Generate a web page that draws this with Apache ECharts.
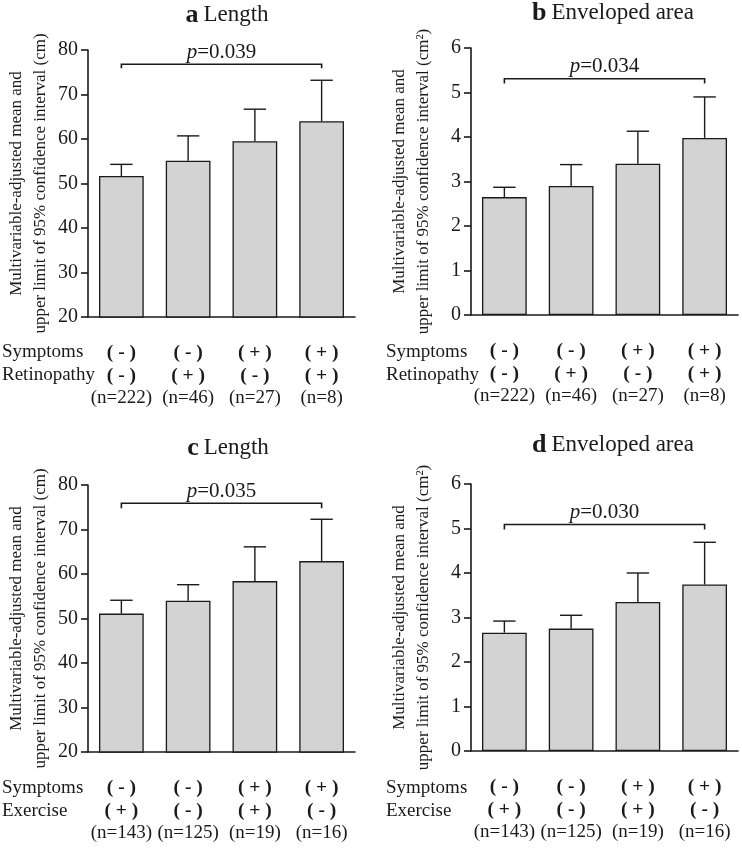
<!DOCTYPE html>
<html>
<head>
<meta charset="utf-8">
<script src="https://cdn.jsdelivr.net/npm/echarts@6/dist/echarts.min.js"></script>
<style>html,body{margin:0;padding:0;background:#fff;}#c{width:742px;height:849px;}</style>
</head>
<body>
<div id="c"></div>
<script>
// ---- data ----
const symptoms = ['( - )', '( - )', '( + )', '( + )'];
const retinopathy = ['( - )', '( + )', '( - )', '( + )'];
const nRetino = ['(n=222)', '(n=46)', '(n=27)', '(n=8)'];
const exercise = ['( + )', '( - )', '( + )', '( - )'];
const nExercise = ['(n=143)', '(n=125)', '(n=19)', '(n=16)'];

const lengthMeanA = [51.7, 55.1, 59.5, 64.0];
const lengthUpperA = [54.3, 60.7, 66.7, 73.2];
const areaMeanB = [2.65, 2.90, 3.40, 3.98];
const areaUpperB = [2.87, 3.38, 4.13, 4.90];
const lengthMeanC = [51.1, 54.0, 58.4, 62.9];
const lengthUpperC = [54.1, 57.6, 66.1, 72.3];
const areaMeanD = [2.66, 2.75, 3.35, 3.74];
const areaUpperD = [2.92, 3.05, 4.00, 4.69];

const panelLetters = ['a', 'b', 'c', 'd'];
const panelTitles = ['Length', 'Enveloped area', 'Length', 'Enveloped area'];
const pValues = ['0.039', '0.034', '0.035', '0.030'];
const bracketLevel = [76.8, 5.31, 75.9, 5.09];
const bracketEnd = [75.9, 5.20, 74.8, 4.98];
const yMin = [20, 0, 20, 0];
const yMax = [80, 6, 80, 6];
const yStep = [10, 1, 10, 1];
const yNames = [
  'Multivariable-adjusted mean and\nupper limit of 95% confidence interval (cm)',
  'Multivariable-adjusted mean and\nupper limit of 95% confidence interval (cm\u00B2)',
  'Multivariable-adjusted mean and\nupper limit of 95% confidence interval (cm)',
  'Multivariable-adjusted mean and\nupper limit of 95% confidence interval (cm\u00B2)'
];
const rowNames = [['Symptoms', 'Retinopathy'], ['Symptoms', 'Retinopathy'], ['Symptoms', 'Exercise'], ['Symptoms', 'Exercise']];

// ---- build ----
const FONT = 'Liberation Serif';
const INK = '#1a1a1a';
const means = [lengthMeanA, areaMeanB, lengthMeanC, areaMeanD];
const uppers = [lengthUpperA, areaUpperB, lengthUpperC, areaUpperD];
const cats = [
  symptoms.map((s, i) => s + '\n' + retinopathy[i] + '\n' + nRetino[i]),
  symptoms.map((s, i) => s + '\n' + retinopathy[i] + '\n' + nRetino[i]),
  symptoms.map((s, i) => s + '\n' + exercise[i] + '\n' + nExercise[i]),
  symptoms.map((s, i) => s + '\n' + exercise[i] + '\n' + nExercise[i])
];
const grids = [
  {left: 88, top: 50, width: 267, height: 267},
  {left: 471, top: 48, width: 267, height: 267},
  {left: 88, top: 485, width: 267, height: 267},
  {left: 471, top: 484, width: 267, height: 267}
];
const titlePos = [[227, 15], [613, 13], [228, 448], [613, 445]];
const rowPos = [[2, 354], [386, 354], [2, 790], [386, 790]];

const option = {
  animation: false,
  backgroundColor: '#fff',
  title: panelLetters.map((L, i) => ({
    text: '{b|' + L + '} {r|' + panelTitles[i] + '}',
    left: titlePos[i][0], top: titlePos[i][1] - 13, textAlign: 'center', padding: 0,
    textStyle: {
      rich: {
        b: {fontFamily: FONT, fontWeight: 'bold', fontSize: 26, color: INK, lineHeight: 26},
        r: {fontFamily: FONT, fontWeight: 'normal', fontSize: 23, color: INK, lineHeight: 26}
      }
    }
  })),
  grid: grids,
  xAxis: grids.map((g, i) => ({
    type: 'category', gridIndex: i, data: cats[i],
    axisLine: {lineStyle: {color: INK, width: 1.6}},
    axisTick: {alignWithLabel: true, length: 7, lineStyle: {color: INK, width: 1.6}},
    axisLabel: {
      margin: 24, interval: 0,
      formatter: v => { const p = v.split('\n'); return '{b|' + p[0] + '}\n{b|' + p[1] + '}\n{n|' + p[2] + '}'; },
      rich: {
        b: {fontFamily: FONT, fontWeight: 'bold', fontSize: 19.5, color: INK, lineHeight: 23},
        n: {fontFamily: FONT, fontSize: 19, color: INK, lineHeight: 23}
      }
    },
    splitLine: {show: false}
  })),
  yAxis: grids.map((g, i) => ({
    type: 'value', gridIndex: i, min: yMin[i], max: yMax[i], interval: yStep[i],
    name: yNames[i], nameLocation: 'middle', nameGap: 35,
    nameTextStyle: {fontFamily: FONT, fontSize: 17, color: INK, lineHeight: 24},
    axisLine: {show: true, lineStyle: {color: INK, width: 1.6}},
    axisTick: {show: true, length: 7, lineStyle: {color: INK, width: 1.6}},
    axisLabel: {fontFamily: FONT, fontSize: 20, color: INK, margin: 10},
    splitLine: {show: false}
  })),
  graphic: rowNames.map((rn, i) => ({
    type: 'group', left: rowPos[i][0], top: rowPos[i][1] - 11,
    children: rn.map((t, k) => ({
      type: 'text', x: 0, y: k * 23,
      style: {text: t, fontFamily: FONT, fontSize: 19, fill: INK}
    }))
  })),
  series: []
};

means.forEach((m, i) => {
  option.series.push({
    type: 'bar', xAxisIndex: i, yAxisIndex: i, data: m, barWidth: '67%',
    itemStyle: {color: '#d3d3d3', borderColor: INK, borderWidth: 1.3},
    emphasis: {disabled: true}, z: 2
  });
  option.series.push({
    type: 'custom', xAxisIndex: i, yAxisIndex: i, z: 3,
    data: m.map((v, k) => [k, v, uppers[i][k]]),
    renderItem: (params, api) => {
      const a = api.coord([api.value(0), api.value(1)]);
      const b = api.coord([api.value(0), api.value(2)]);
      const half = api.size([1, 0])[0] * 0.67 / 4;
      const st = {stroke: INK, lineWidth: 1.4};
      return {type: 'group', children: [
        {type: 'line', shape: {x1: a[0], y1: a[1], x2: b[0], y2: b[1]}, style: st},
        {type: 'line', shape: {x1: b[0] - half, y1: b[1], x2: b[0] + half, y2: b[1]}, style: st}
      ]};
    }
  });
  option.series.push({
    type: 'custom', xAxisIndex: i, yAxisIndex: i, z: 3, clip: false,
    data: [[0, cats[i].length - 1, bracketLevel[i], bracketEnd[i]]],
    renderItem: (params, api) => {
      const p0 = api.coord([api.value(0), api.value(3)]);
      const p1 = api.coord([api.value(0), api.value(2)]);
      const p2 = api.coord([api.value(1), api.value(2)]);
      const p3 = api.coord([api.value(1), api.value(3)]);
      return {type: 'group', children: [
        {type: 'polyline', shape: {points: [p0, p1, p2, p3]}, style: {stroke: INK, lineWidth: 1.6, fill: null}},
        {type: 'text', x: (p1[0] + p2[0]) / 2, y: p1[1] - 12,
          style: {
            text: '{i|p}{r|=' + pValues[i] + '}', align: 'center', verticalAlign: 'middle',
            rich: {
              i: {fontFamily: FONT, fontStyle: 'italic', fontSize: 21, fill: INK},
              r: {fontFamily: FONT, fontSize: 21, fill: INK}
            }
          }}
      ]};
    }
  });
});

const chart = echarts.init(document.getElementById('c'), null, {renderer: 'canvas'});
chart.setOption(option);
</script>
</body>
</html>
